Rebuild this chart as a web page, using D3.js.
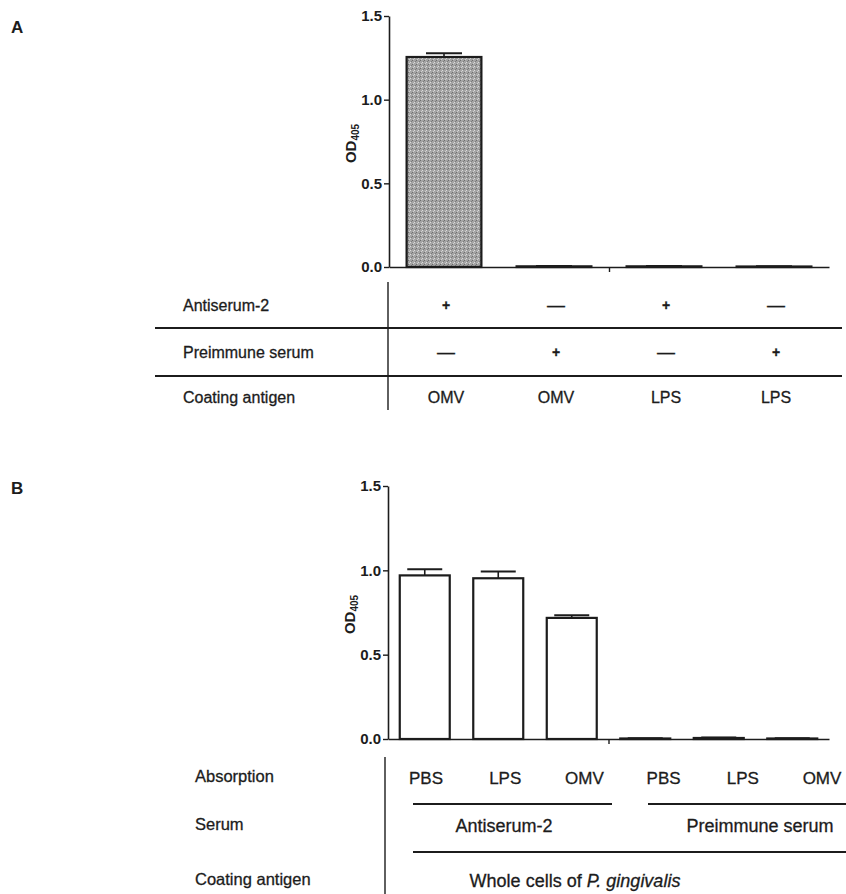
<!DOCTYPE html>
<html>
<head>
<meta charset="utf-8">
<script src="https://cdn.jsdelivr.net/npm/d3@7"></script>
<style>
  body { margin: 0; background: #fff; }
  svg { display: block; font-family: "Liberation Sans", Arial, sans-serif; }
</style>
</head>
<body>
<svg id="chart" width="846" height="894"></svg>
<script>
// values
const yTicks = [0, 0.5, 1.0, 1.5];

const groupsA = ['OMV+anti', 'OMV+pre', 'LPS+anti', 'LPS+pre'];
const valuesA = [1.255, 0.004, 0.004, 0.003];
const errorsA = [0.022, 0.002, 0.002, 0.002];
const antiserumRow = ['+', '—', '+', '—'];
const preimmuneRow = ['—', '+', '—', '+'];
const coatingRowA = ['OMV', 'OMV', 'LPS', 'LPS'];
const rowLabelsA = ['Antiserum-2', 'Preimmune serum', 'Coating antigen'];

const groupsB = ['anti PBS', 'anti LPS', 'anti OMV', 'pre PBS', 'pre LPS', 'pre OMV'];
const valuesB = [0.97, 0.953, 0.718, 0.003, 0.006, 0.003];
const errorsB = [0.036, 0.04, 0.016, 0.001, 0.003, 0.001];
const absorptionRow = ['PBS', 'LPS', 'OMV', 'PBS', 'LPS', 'OMV'];
const serumGroups = ['Antiserum-2', 'Preimmune serum'];
const rowLabelsB = ['Absorption', 'Serum', 'Coating antigen'];

const INK = '#1c1c1c';
const svg = d3.select('#chart');

// stipple texture for the grey bar
const pat = svg.append('defs').append('pattern')
    .attr('id', 'stipple')
    .attr('width', 4).attr('height', 4)
    .attr('patternUnits', 'userSpaceOnUse');
pat.append('rect').attr('width', 4).attr('height', 4).attr('fill', '#a4a4a4');
pat.append('rect').attr('x', 0).attr('y', 0).attr('width', 1).attr('height', 1).attr('fill', '#6e6e6e');
pat.append('rect').attr('x', 2).attr('y', 2).attr('width', 1).attr('height', 1).attr('fill', '#dcdcdc');
pat.append('rect').attr('x', 3).attr('y', 1).attr('width', 1).attr('height', 1).attr('fill', '#7c7c7c');
pat.append('rect').attr('x', 1).attr('y', 3).attr('width', 1).attr('height', 1).attr('fill', '#d0d0d0');

function drawPanel(opts) {
    const y = d3.scaleLinear().domain([0, 1.5]).range([opts.bottom, opts.top]);
    const x = d3.scaleBand()
        .domain(opts.groups)
        .range([opts.left, opts.right])
        .paddingInner(0.32)
        .paddingOuter(0.16);

    const g = svg.append('g');

    // y axis
    const yAxis = g.append('g')
        .attr('transform', `translate(${opts.left},0)`)
        .call(d3.axisLeft(y).tickValues(yTicks).tickFormat(d3.format('.1f')).tickSize(5).tickSizeOuter(0));
    yAxis.select('.domain').attr('stroke', INK).attr('stroke-width', 1.6);
    yAxis.selectAll('.tick line').attr('stroke', INK).attr('stroke-width', 1.4);
    yAxis.selectAll('.tick text')
        .attr('fill', INK)
        .attr('font-size', 15)
        .attr('font-weight', 'bold')
        .attr('font-family', '"Liberation Sans Narrow", "Liberation Sans", Arial, sans-serif')
        .attr('x', -7);

    // x axis with one tick in the middle
    const xLine = d3.scaleLinear().domain([0, 1]).range(x.range());
    const xAxis = g.append('g')
        .attr('transform', `translate(0,${opts.bottom})`)
        .call(d3.axisBottom(xLine).tickValues([0.5]).tickFormat('').tickSize(5).tickSizeOuter(0));
    xAxis.select('.domain').attr('stroke', INK).attr('stroke-width', 1.6);
    xAxis.selectAll('.tick line').attr('stroke', INK).attr('stroke-width', 1.4);

    // axis title
    const title = g.append('text')
        .attr('transform', `translate(${opts.left - 33},${y(0.75) + 2}) rotate(-90)`)
        .attr('text-anchor', 'middle')
        .attr('fill', INK)
        .attr('font-weight', 'bold')
        .attr('font-size', 15);
    title.append('tspan').text('OD');
    title.append('tspan').attr('font-size', 10).attr('dy', 3).text('405');

    const data = opts.groups.map((k, i) => ({ key: k, v: opts.values[i], e: opts.errors[i] }));

    // error bars (upper only)
    const cap = 36;
    const eb = g.selectAll('.err').data(data).join('g').attr('class', 'err');
    eb.append('line')
        .attr('x1', d => x(d.key) + x.bandwidth() / 2)
        .attr('x2', d => x(d.key) + x.bandwidth() / 2)
        .attr('y1', d => y(d.v))
        .attr('y2', d => y(d.v + d.e))
        .attr('stroke', INK).attr('stroke-width', 1.6);
    eb.append('line')
        .attr('x1', d => x(d.key) + x.bandwidth() / 2 - Math.min(cap, x.bandwidth() * 0.7) / 2)
        .attr('x2', d => x(d.key) + x.bandwidth() / 2 + Math.min(cap, x.bandwidth() * 0.7) / 2)
        .attr('y1', d => y(d.v + d.e))
        .attr('y2', d => y(d.v + d.e))
        .attr('stroke', INK).attr('stroke-width', 2);

    // bars
    g.selectAll('.bar').data(data).join('rect')
        .attr('class', 'bar')
        .attr('x', d => x(d.key))
        .attr('width', x.bandwidth())
        .attr('y', d => y(d.v))
        .attr('height', d => y(0) - y(d.v))
        .attr('fill', opts.fill)
        .attr('stroke', INK)
        .attr('stroke-width', 2.2);

    return { x, y };
}

function label(txt, x, y, anchor, size) {
    return svg.append('text')
        .attr('x', x).attr('y', y)
        .attr('text-anchor', anchor || 'start')
        .attr('dominant-baseline', 'central')
        .attr('fill', INK)
        .attr('stroke', INK)
        .attr('stroke-width', 0.3)
        .attr('font-size', size || 16)
        .text(txt);
}

function hline(x1, x2, y) {
    svg.append('line')
        .attr('x1', x1).attr('x2', x2).attr('y1', y).attr('y2', y)
        .attr('stroke', INK).attr('stroke-width', 2);
}

function vline(x, y1, y2) {
    svg.append('line')
        .attr('x1', x).attr('x2', x).attr('y1', y1).attr('y2', y2)
        .attr('stroke', INK).attr('stroke-width', 1.4);
}

// ---------- panel A ----------
svg.append('text').attr('x', 11).attr('y', 33)
    .attr('font-size', 17).attr('font-weight', 'bold').attr('fill', INK).text('A');

const pA = drawPanel({
    groups: groupsA, values: valuesA, errors: errorsA,
    left: 389, right: 829, top: 16, bottom: 267,
    fill: 'url(#stipple)'
});

const colA = i => pA.x(groupsA[i]) + pA.x.bandwidth() / 2 + 2;
const rowYA = [305, 352, 397];
vline(388, 282, 410);
hline(155, 842, 328);
hline(155, 842, 376);
rowLabelsA.forEach((t, i) => label(t, 183, rowYA[i], 'start', 16));
[antiserumRow, preimmuneRow, coatingRowA].forEach((row, r) => {
    row.forEach((t, i) => {
        const size = t === '+' ? 14 : (t === '—' ? 18 : 16);
        const el = label(t, colA(i), rowYA[r], 'middle', size);
        if (t === '+') el.attr('font-weight', 'bold');
    });
});

// ---------- panel B ----------
svg.append('text').attr('x', 11).attr('y', 494)
    .attr('font-size', 17).attr('font-weight', 'bold').attr('fill', INK).text('B');

drawPanel({
    groups: groupsB, values: valuesB, errors: errorsB,
    left: 388, right: 829, top: 486, bottom: 739,
    fill: '#fff'
});

const colB = d3.scalePoint().domain(d3.range(6)).range([426, 822]);
const rowYB = [778, 826, 881];
vline(385, 757, 894);
rowLabelsB.forEach((t, i) => label(t, 195, rowYB[i] - 2, 'start', 16.5));
absorptionRow.forEach((t, i) => label(t, colB(i), rowYB[0], 'middle', 17));

// serum group underlines
hline(413, 612, 804);
hline(648, 846, 804);
label(serumGroups[0], 504, rowYB[1], 'middle', 18);
label(serumGroups[1], 760, rowYB[1], 'middle', 18);

hline(413, 846, 852);
const coat = label('', 575, rowYB[2], 'middle', 18);
coat.append('tspan').text('Whole cells of ');
coat.append('tspan').attr('font-style', 'italic').text('P. gingivalis');
</script>
</body>
</html>
